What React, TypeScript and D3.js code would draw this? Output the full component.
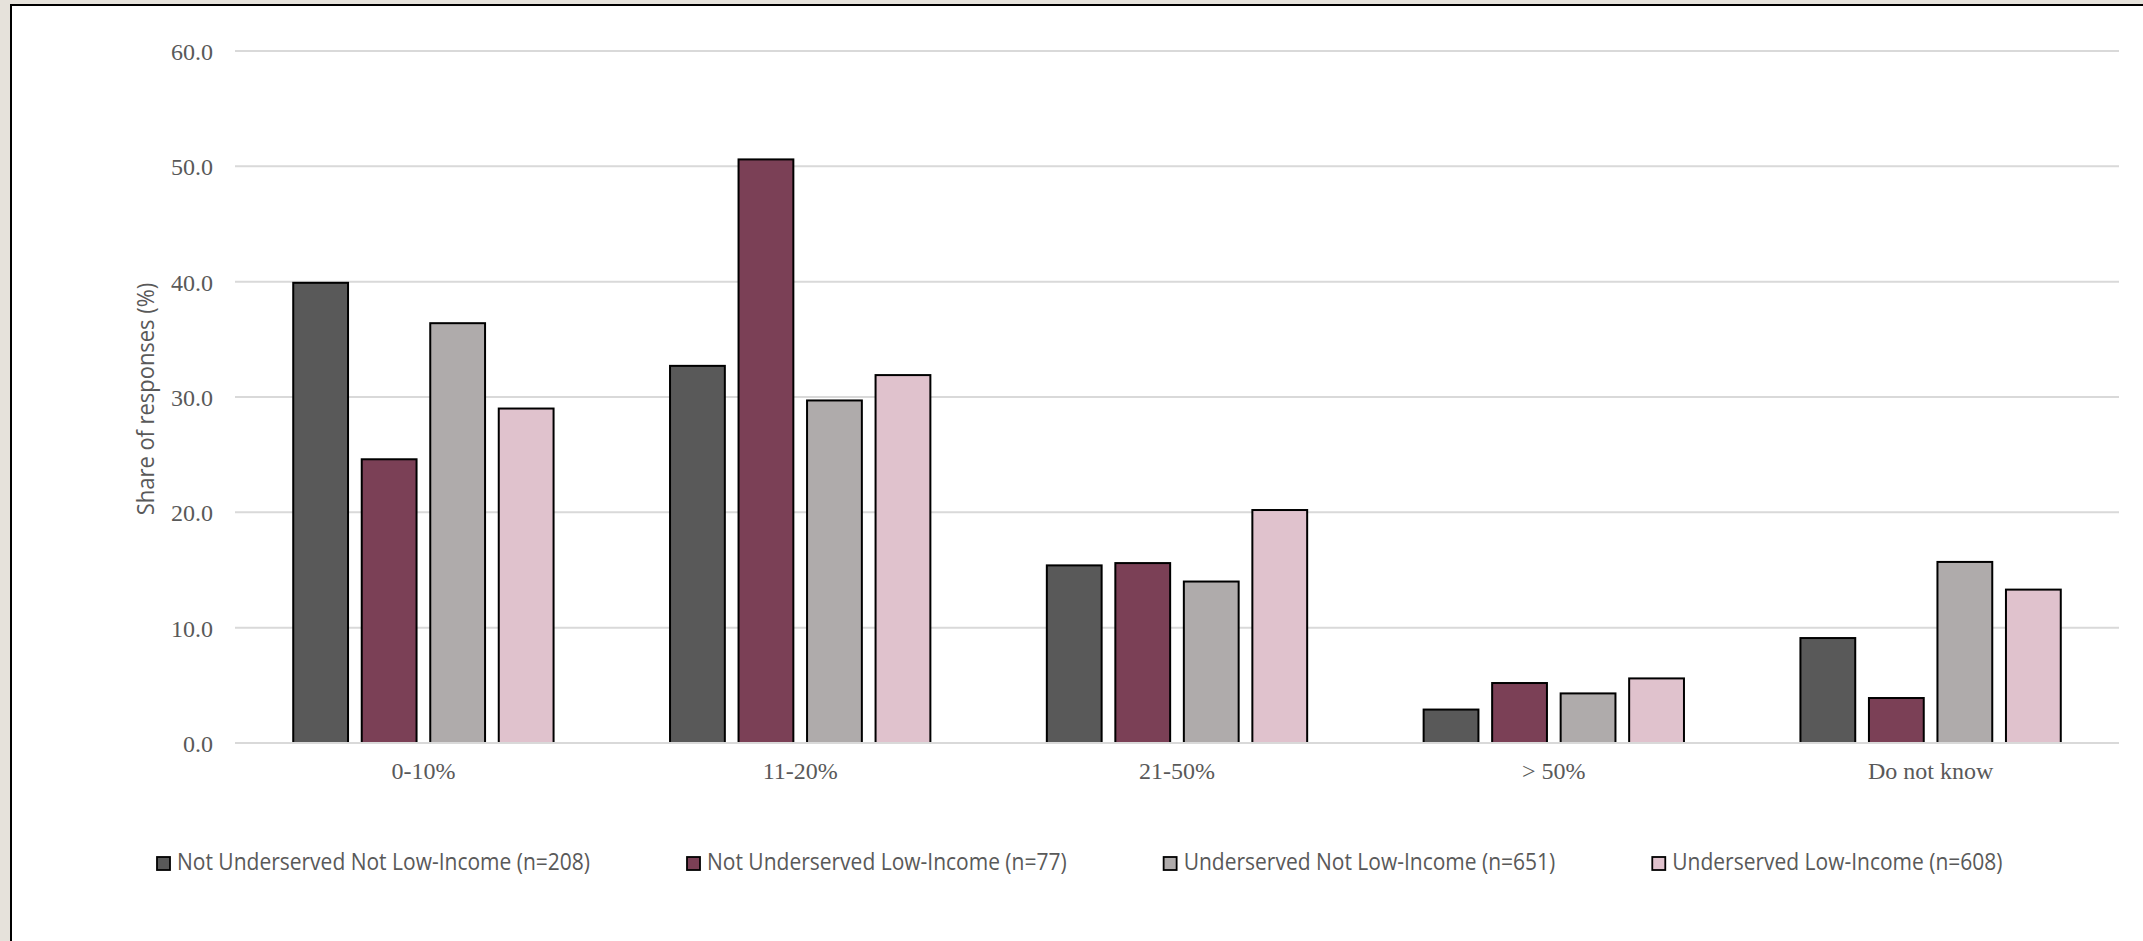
import React, { useEffect, useRef } from "react";
import * as d3 from "d3";

const categories = ["0-10%", "11-20%", "21-50%", "> 50%", "Do not know"];
const seriesNames = [
  "Not Underserved Not Low-Income (n=208)",
  "Not Underserved Low-Income (n=77)",
  "Underserved Not Low-Income (n=651)",
  "Underserved Low-Income (n=608)",
];
const notUnderservedNotLowIncome = [39.9, 32.7, 15.4, 2.9, 9.1];
const notUnderservedLowIncome = [24.6, 50.6, 15.6, 5.2, 3.9];
const underservedNotLowIncome = [36.4, 29.7, 14.0, 4.3, 15.7];
const underservedLowIncome = [29.0, 31.9, 20.2, 5.6, 13.3];
const seriesColors = ["#595959", "#7b4056", "#afabab", "#e0c2cd"];
const yTicks = [0, 10, 20, 30, 40, 50, 60];
const yAxisTitle = "Share of responses (%)";

const W = 2143;
const H = 941;

export default function App() {
  const ref = useRef<SVGSVGElement | null>(null);

  useEffect(() => {
    document.body.style.margin = "0";
    document.body.style.overflow = "hidden";
    document.documentElement.style.overflow = "hidden";
    const svg = d3.select(ref.current);
    svg.selectAll("*").remove();

    const seriesValues = [
      notUnderservedNotLowIncome,
      notUnderservedLowIncome,
      underservedNotLowIncome,
      underservedLowIncome,
    ];

    // page background and framed white card (left and top edges visible)
    svg.append("rect").attr("x", 0).attr("y", 0).attr("width", W).attr("height", H).attr("fill", "#e6e2db");
    svg
      .append("rect")
      .attr("x", 11)
      .attr("y", 5)
      .attr("width", W - 11)
      .attr("height", H - 5)
      .attr("fill", "#ffffff");
    svg
      .append("path")
      .attr("d", `M11,${H} L11,5 L${W},5`)
      .attr("fill", "none")
      .attr("stroke", "#000")
      .attr("stroke-width", 2);

    const plotLeft = 235;
    const plotRight = 2119;
    const plotTop = 51;
    const plotBottom = 743;

    const x0 = d3.scaleBand<string>().domain(categories).range([plotLeft, plotRight]).padding(0);
    const x1 = d3
      .scaleBand<number>()
      .domain(d3.range(seriesNames.length))
      .range([0, x0.bandwidth()])
      .paddingInner(0.2)
      .paddingOuter(0.85);
    const y = d3.scaleLinear().domain([0, 60]).range([plotBottom, plotTop]);

    // gridlines
    svg
      .append("g")
      .selectAll("line")
      .data(yTicks.filter((t) => t !== 0))
      .join("line")
      .attr("x1", plotLeft)
      .attr("x2", plotRight)
      .attr("y1", (d) => y(d))
      .attr("y2", (d) => y(d))
      .attr("stroke", "#d9d9d9")
      .attr("stroke-width", 2);

    // y tick labels
    svg
      .append("g")
      .selectAll("text")
      .data(yTicks)
      .join("text")
      .attr("x", 213)
      .attr("y", (d) => y(d) + 9)
      .attr("text-anchor", "end")
      .attr("font-family", "'Liberation Serif', 'Times New Roman', serif")
      .attr("font-size", 24)
      .attr("fill", "#595959")
      .text((d) => d3.format(".1f")(d));

    // bars
    const groups = svg
      .append("g")
      .selectAll("g")
      .data(categories)
      .join("g")
      .attr("transform", (d) => `translate(${x0(d)},0)`);

    groups
      .selectAll("rect")
      .data((_, ci) => seriesValues.map((vals, si) => ({ si, v: vals[ci] })))
      .join("rect")
      .attr("x", (d) => x1(d.si)!)
      .attr("width", x1.bandwidth())
      .attr("y", (d) => y(d.v))
      .attr("height", (d) => y(0) - y(d.v))
      .attr("fill", (d) => seriesColors[d.si])
      .attr("stroke", "#000")
      .attr("stroke-width", 2);

    // baseline axis
    svg
      .append("line")
      .attr("x1", plotLeft)
      .attr("x2", plotRight)
      .attr("y1", y(0))
      .attr("y2", y(0))
      .attr("stroke", "#d9d9d9")
      .attr("stroke-width", 2);

    // category labels
    svg
      .append("g")
      .selectAll("text")
      .data(categories)
      .join("text")
      .attr("x", (d) => x0(d)! + x0.bandwidth() / 2)
      .attr("y", 779)
      .attr("text-anchor", "middle")
      .attr("font-family", "'Liberation Serif', 'Times New Roman', serif")
      .attr("font-size", 24)
      .attr("fill", "#595959")
      .text((d) => d);

    const sansFont = "'Open Sans', 'Noto Sans', sans-serif";
    const legendSize = 23;
    const titleSize = 24;

    // measure texts to derive a Calibri-like compression
    const measureG = svg.append("g").attr("visibility", "hidden");
    const widths = seriesNames.map((name) => {
      const t = measureG
        .append("text")
        .attr("font-family", sansFont)
        .attr("font-size", legendSize)
        .text(name);
      return (t.node() as SVGTextElement).getComputedTextLength();
    });
    const titleMeasure = measureG
      .append("text")
      .attr("font-family", sansFont)
      .attr("font-size", titleSize)
      .text(yAxisTitle);
    const titleWidth = (titleMeasure.node() as SVGTextElement).getComputedTextLength();
    measureG.remove();
    const k = 413 / widths[0];

    // y axis title
    svg
      .append("text")
      .attr("transform", `translate(154,399) rotate(-90)`)
      .attr("text-anchor", "middle")
      .attr("font-family", sansFont)
      .attr("font-size", titleSize)
      .attr("fill", "#595959")
      .attr("textLength", titleWidth * k)
      .attr("lengthAdjust", "spacingAndGlyphs")
      .text(yAxisTitle);

    // legend
    const legend = svg.append("g");
    let lx = 157;
    seriesNames.forEach((name, i) => {
      legend
        .append("rect")
        .attr("x", lx)
        .attr("y", 857)
        .attr("width", 13)
        .attr("height", 13)
        .attr("fill", seriesColors[i])
        .attr("stroke", "#000")
        .attr("stroke-width", 1.8);
      const tw = widths[i] * k;
      legend
        .append("text")
        .attr("x", lx + 20)
        .attr("y", 870)
        .attr("font-family", sansFont)
        .attr("font-size", legendSize)
        .attr("fill", "#595959")
        .attr("textLength", tw)
        .attr("lengthAdjust", "spacingAndGlyphs")
        .text(name);
      lx = lx + 20 + tw + 97;
    });
  }, []);

  return (
    <svg
      ref={ref}
      width={W}
      height={H}
      style={{ display: "block", position: "fixed", left: 0, top: 0 }}
    />
  );
}
